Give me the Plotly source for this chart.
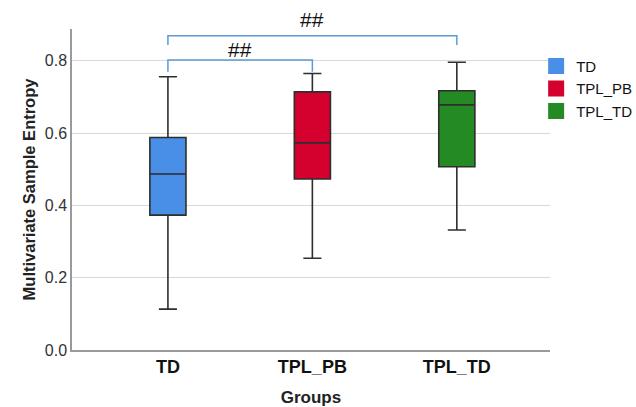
import plotly.graph_objects as go

# Summary statistics per group (whisker low, Q1, median, Q3, whisker high)
groups = ["TD", "TPL_PB", "TPL_TD"]
lower_fence = [0.113, 0.254, 0.332]
q1 = [0.373, 0.473, 0.507]
median = [0.487, 0.573, 0.678]
q3 = [0.588, 0.714, 0.717]
upper_fence = [0.756, 0.765, 0.796]
colors = ["#4a8fe7", "#d4002e", "#248a24"]

# Significance brackets: (left group index, right group index), bar height, tip height
bracket_pairs = [(0, 1), (0, 2)]
bracket_y = [0.802, 0.869]
bracket_tip = [0.770, 0.844]
bracket_text = ["##", "##"]
bracket_text_y = [0.832, 0.913]

Y_MAX = 0.888

fig = go.Figure()

for i, g in enumerate(groups):
    fig.add_trace(go.Box(
        x=[g], q1=[q1[i]], median=[median[i]], q3=[q3[i]],
        lowerfence=[lower_fence[i]], upperfence=[upper_fence[i]],
        fillcolor=colors[i], line=dict(color="#2e2e2e", width=1.6),
        width=0.25, whiskerwidth=0.5, showlegend=False, name=g,
        hoverinfo="skip",
    ))

# Legend entries drawn as filled squares
for i, g in enumerate(groups):
    fig.add_trace(go.Scatter(
        x=[None], y=[None], mode="markers", name=g,
        marker=dict(symbol="square", size=16, color=colors[i]),
    ))

for (a, b), yb, yt in zip(bracket_pairs, bracket_y, bracket_tip):
    fig.add_shape(type="path",
                  path=f"M {a},{yt} L {a},{yb} L {b},{yb} L {b},{yt}",
                  xref="x", yref="y", line=dict(color="#5b9bd5", width=1.5))

# Labels above the brackets (paper coords so they may sit above the axis top)
for (a, b), t, ty in zip(bracket_pairs, bracket_text, bracket_text_y):
    fig.add_annotation(x=(a + b) / 2, y=ty / Y_MAX, text=t, showarrow=False,
                       xref="x", yref="paper", xanchor="center", yanchor="middle",
                       font=dict(size=21, color="#111", family="Liberation Sans"))

fig.update_layout(
    width=636, height=407,
    margin=dict(l=72, r=86, t=29, b=57, autoexpand=False),
    plot_bgcolor="white", paper_bgcolor="white",
    font=dict(family="Liberation Sans", color="#222"),
    boxmode="overlay",
    legend=dict(x=0.971, y=0.935, xanchor="left", yanchor="top",
                font=dict(size=15, color="#111"), tracegroupgap=0,
                itemsizing="trace", bgcolor="rgba(0,0,0,0)"),
    xaxis=dict(
        type="category", categoryorder="array", categoryarray=groups,
        range=[-0.664, 2.645], showgrid=False, showline=True,
        linecolor="#9a9a9a", linewidth=1.5, ticks="",
        tickfont=dict(size=18, color="#111", family="Liberation Sans", weight="bold"),
        title=dict(text="<b>Groups</b>", font=dict(size=17, color="#222"), standoff=15),
    ),
    yaxis=dict(
        range=[0, Y_MAX], tickvals=[0, 0.2, 0.4, 0.6, 0.8],
        ticktext=["0.0", "0.2", "0.4", "0.6", "0.8"],
        showgrid=True, gridcolor="#d9d9d9", gridwidth=1.2,
        zeroline=False, showline=True, linecolor="#9a9a9a", linewidth=1.5,
        ticks="", tickfont=dict(size=16, color="#333"),
        title=dict(text="<b>Multivariate Sample Entropy</b>",
                   font=dict(size=16.5, color="#222"), standoff=5),
    ),
)

fig.write_html("out.html")
